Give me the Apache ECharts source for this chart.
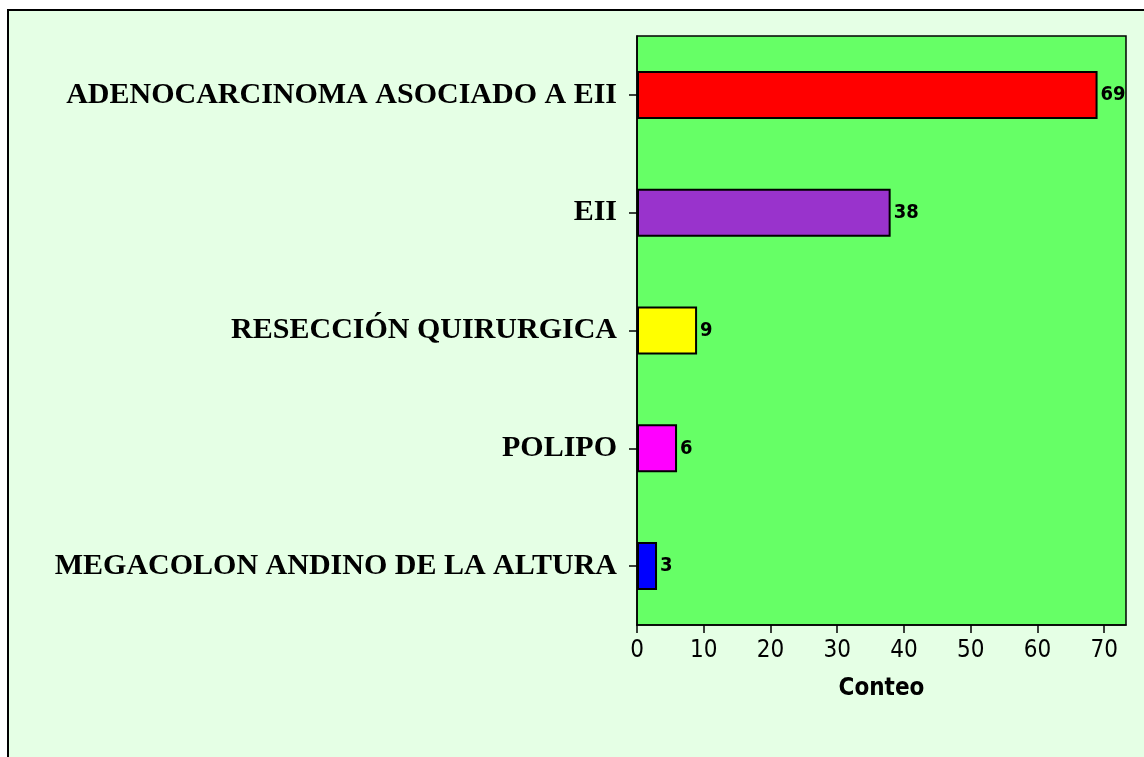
<!DOCTYPE html>
<html>
<head>
<meta charset="utf-8">
<style>
  html, body { margin: 0; padding: 0; background: #ffffff; }
  #chart { width: 1144px; height: 757px; }
</style>
<script src="https://cdn.jsdelivr.net/npm/echarts@6/dist/echarts.min.js"></script>
</head>
<body>
<div id="chart"></div>
<script>
// Diagnoses, listed top to bottom
const categories = [
  'ADENOCARCINOMA ASOCIADO A EII',
  'EII',
  'RESECCIÓN QUIRURGICA',
  'POLIPO',
  'MEGACOLON ANDINO DE LA ALTURA'
];
const counts = [69, 38, 9, 6, 3];
const barColors = ['#ff0000', '#9933cc', '#ffff00', '#ff00ff', '#0000ff'];
const xTicks = [0, 10, 20, 30, 40, 50, 60, 70];
const xMax = 73.26;

const sansCond = '"DejaVu Sans Condensed", "DejaVu Sans", sans-serif';

const chart = echarts.init(document.getElementById('chart'), null, { renderer: 'canvas' });

chart.setOption({
  backgroundColor: '#ffffff',
  animation: false,
  graphic: [{
    type: 'rect',
    z: -10,
    silent: true,
    shape: { x: 8, y: 10, width: 1200, height: 800 },
    style: { fill: '#e5ffe5', stroke: '#000000', lineWidth: 2 }
  }],
  grid: {
    left: 637, top: 36, right: 18, bottom: 132,
    show: true,
    backgroundColor: '#66ff66',
    borderColor: '#000000',
    borderWidth: 1.5,
    containLabel: false
  },
  xAxis: {
    type: 'value',
    min: 0,
    max: xMax,
    name: 'Conteo',
    nameLocation: 'middle',
    nameGap: 52,
    nameTextStyle: { fontFamily: sansCond, fontWeight: 'bold', fontSize: 24, color: '#000' },
    axisLine: { show: true, lineStyle: { color: '#000', width: 1.5 } },
    axisTick: { show: true, length: 8, customValues: xTicks, lineStyle: { color: '#000', width: 1.5 } },
    axisLabel: { customValues: xTicks, margin: 14, fontFamily: sansCond, fontSize: 24, color: '#000' },
    splitLine: { show: false }
  },
  yAxis: {
    type: 'category',
    inverse: true,
    data: categories,
    axisLine: { show: true, lineStyle: { color: '#000', width: 1.5 } },
    axisTick: { show: true, length: 8, alignWithLabel: true, lineStyle: { color: '#000', width: 1.5 } },
    axisLabel: {
      margin: 20,
      fontFamily: '"Liberation Serif", "Times New Roman", serif',
      fontWeight: 'bold',
      fontSize: 30,
      color: '#000'
    },
    splitLine: { show: false }
  },
  series: [{
    type: 'bar',
    barWidth: 48,
    data: counts.map((v, i) => ({
      value: v,
      itemStyle: { color: barColors[i], borderColor: '#000', borderWidth: 2 }
    })),
    label: {
      show: true,
      position: 'right',
      distance: 3,
      fontFamily: sansCond,
      fontWeight: 'bold',
      fontSize: 20,
      color: '#000'
    }
  }]
});
</script>
</body>
</html>
